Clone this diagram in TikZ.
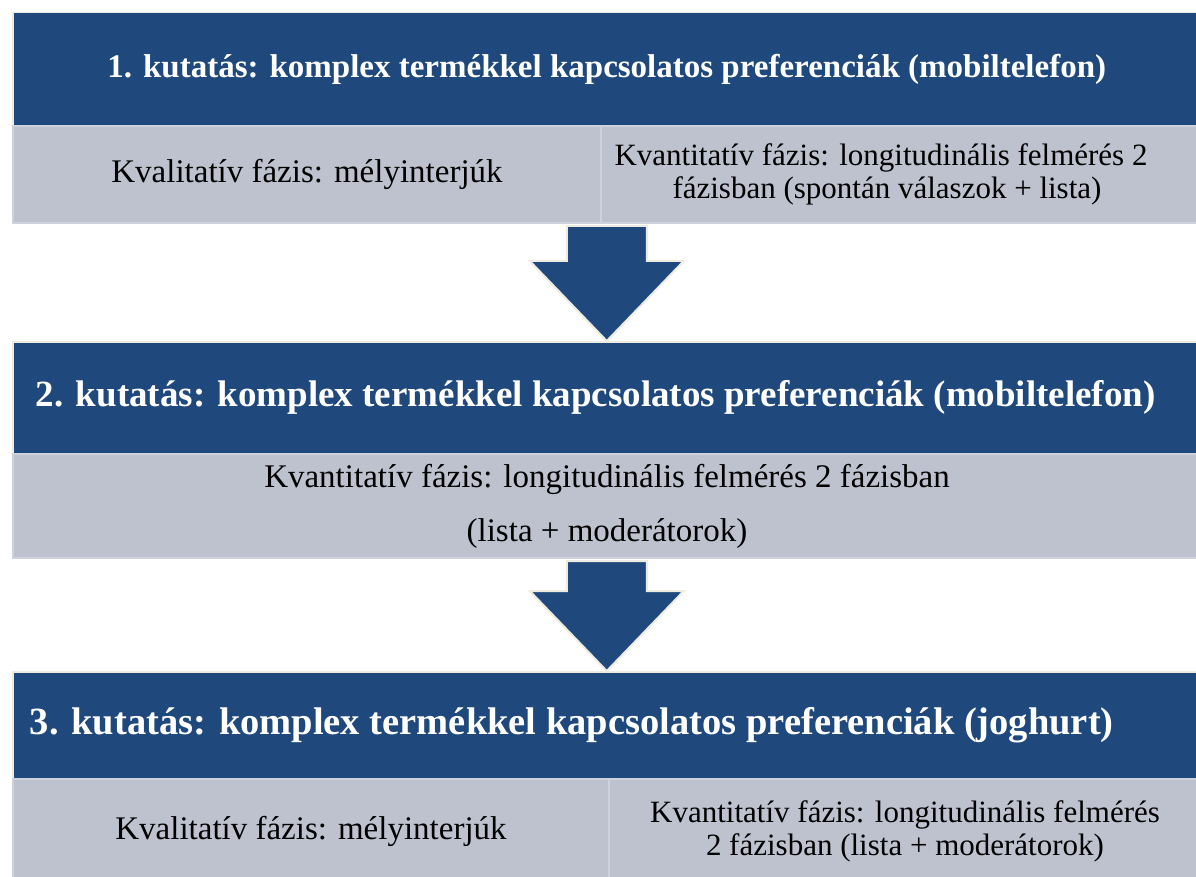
\documentclass[tikz,border=0pt]{standalone}
\usepackage{fontspec}
\setmainfont{Liberation Serif}
\usetikzlibrary{calc}

\definecolor{headblue}{RGB}{31,73,125}
\definecolor{cellgray}{RGB}{189,194,206}
\definecolor{cellrim}{RGB}{206,210,220}
\definecolor{rimcream}{RGB}{238,236,225}

\tikzset{
    headbox/.style={anchor=north west, fill=headblue, draw=rimcream, line width=1.5pt,
        text=white, inner sep=0pt, minimum height=#1, minimum width=1188pt,
        font=\fontsize{37}{42}\selectfont\bfseries},
    cellbox/.style={anchor=north west, fill=cellgray, draw=cellrim, line width=2pt,
        inner sep=0pt, align=center, font=\fontsize{31}{33}\selectfont},
    bigarrow/.style={fill=headblue, draw=rimcream, line width=2pt, line join=miter}
}

\begin{document}
\begin{tikzpicture}[x=1pt,y=-1pt]
    \useasboundingbox[fill=white] (0,0) rectangle (1196,877);

    % first study
    \node[headbox=113pt, font=\fontsize{33}{38}\selectfont\bfseries] (head1) at (12,12)
        {1. kutatás: komplex termékkel kapcsolatos preferenciák (mobiltelefon)};
    \node[cellbox, minimum width=588pt, minimum height=97pt,
        font=\fontsize{33}{35}\selectfont] (qual1) at (12,125)
        {Kvalitatív fázis: mélyinterjúk};
    \node[cellbox, minimum width=600pt, minimum height=97pt] (quant1) at (600,125)
        {Kvantitatív fázis: longitudinális felmérés 2\hspace*{40pt}\\fázisban (spontán válaszok + lista)\hspace*{28pt}};

    % second study
    \node[headbox=112pt] (head2) at (12,341)
        {2. kutatás: komplex termékkel kapcsolatos preferenciák (mobiltelefon)\hspace*{22pt}};
    \node[cellbox, minimum width=1188pt, minimum height=104pt,
        font=\fontsize{33}{54}\selectfont] (quant2) at (12,453)
        {Kvantitatív fázis: longitudinális felmérés 2 fázisban\\(lista + moderátorok)};

    % third study
    \node[headbox=107pt, font=\fontsize{38.5}{42}\selectfont\bfseries] (head3) at (12,671)
        {3. kutatás: komplex termékkel kapcsolatos preferenciák (joghurt)\hspace*{70pt}};
    \node[cellbox, minimum width=596pt, minimum height=104pt,
        font=\fontsize{33}{35}\selectfont] (qual3) at (12,778)
        {Kvalitatív fázis: mélyinterjúk};
    \node[cellbox, minimum width=592pt, minimum height=104pt] (quant3) at (608,778)
        {Kvantitatív fázis: longitudinális felmérés\\2 fázisban (lista + moderátorok)};

    % arrows between the studies
    \coordinate (arr1e) at (head2.north);
    \coordinate (arr1s) at (arr1e |- qual1.south);
    \coordinate (arr2e) at (head3.north);
    \coordinate (arr2s) at (arr2e |- quant2.south);
    \foreach \s/\e in {arr1s/arr1e, arr2s/arr2e}
        \draw[bigarrow] ($(\s)+(-40,2)$) -- ($(\s)+(40,2)$) -- ($(\e)+(40,-80)$)
            -- ($(\e)+(77,-80)$) -- (\e) -- ($(\e)+(-77,-80)$) -- ($(\e)+(-40,-80)$) -- cycle;
\end{tikzpicture}
\end{document}
